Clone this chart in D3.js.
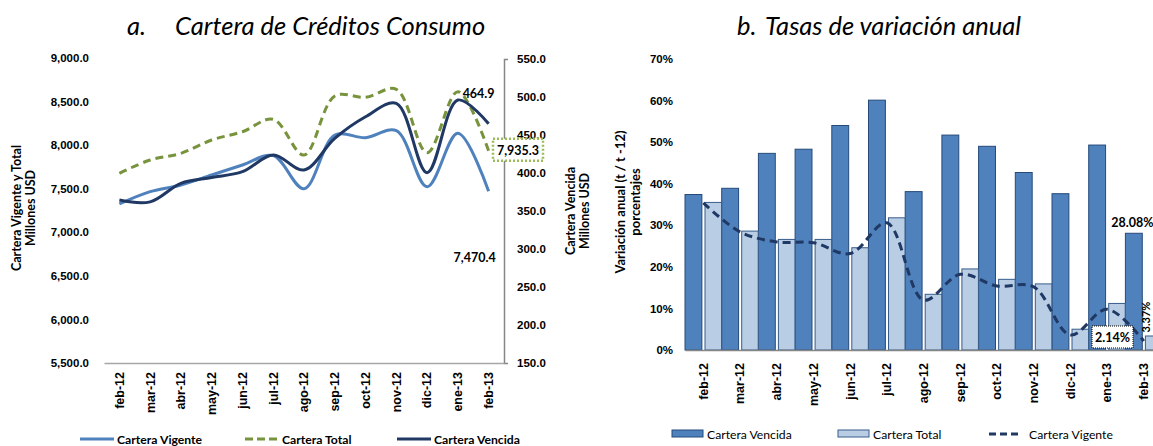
<!DOCTYPE html>
<html>
<head>
<meta charset="utf-8">
<script src="https://cdn.jsdelivr.net/npm/d3@7"></script>
<style>
  body { margin: 0; background: #fff; }
  svg { font-family: Lato, "Open Sans", sans-serif; }
  .tick text { font-weight: bold; font-size: 11.5px; fill: #000; }
  .xlab .tick text { font-size: 12.5px; }
</style>
</head>
<body>
<div id="chart"></div>
<script>
const width = 1153
const height = 446

// months shared by both panels
const months = ["feb-12", "mar-12", "abr-12", "may-12", "jun-12", "jul-12", "ago-12",
  "sep-12", "oct-12", "nov-12", "dic-12", "ene-13", "feb-13"]

// panel a (millones USD)
const carteraVigente = [7325, 7466, 7543, 7657, 7772, 7880, 7500, 8115, 8086, 8166, 7523, 8136, 7470.4]
const carteraTotal = [7677, 7830, 7906, 8059, 8154, 8297, 7887, 8564, 8549, 8641, 7914, 8614, 7935.3]
const carteraVencida = [364.4, 362, 386.4, 394, 401.7, 423.7, 404, 445.6, 474, 491.7, 400.4, 496, 464.9]
const leftTicks = [5500, 6000, 6500, 7000, 7500, 8000, 8500, 9000]
const rightTicks = [150, 200, 250, 300, 350, 400, 450, 500, 550]

// panel b (variación anual)
const varVencida = [0.374, 0.389, 0.473, 0.483, 0.540, 0.601, 0.381, 0.517, 0.490, 0.427, 0.376, 0.493, 0.2808]
const varTotal = [0.355, 0.286, 0.266, 0.266, 0.246, 0.318, 0.134, 0.195, 0.170, 0.159, 0.050, 0.112, 0.0337]
const varVigente = [0.354, 0.284, 0.260, 0.258, 0.232, 0.306, 0.120, 0.182, 0.154, 0.152, 0.036, 0.098, 0.0214]
const pctTicks = [0, 0.1, 0.2, 0.3, 0.4, 0.5, 0.6, 0.7]

const blue = "#4F81BD"
const green = "#77933C"
const navy = "#1F3864"

let svg = d3.select("#chart")
  .append("svg")
  .attr("width", width)
  .attr("height", height)

// ---------- panel a ----------
let x = d3.scaleBand().domain(months).range([104, 504])
let yL = d3.scaleLinear().domain([5500, 9000]).range([363, 58])
let yR = d3.scaleLinear().domain([150, 550]).range([363, 59])
const cx = d => x(d) + x.bandwidth() / 2

svg.append("text")
  .attr("x", 127).attr("y", 35)
  .style("font-style", "italic").style("font-size", "25.5px")
  .text("a.")
svg.append("text")
  .attr("x", 175).attr("y", 35)
  .style("font-style", "italic").style("font-size", "25.5px")
  .text("Cartera de Créditos Consumo")

svg.append("g")
  .attr("transform", "translate(104,0)")
  .call(d3.axisLeft(yL).tickValues(leftTicks).tickFormat(d3.format(",.1f")).tickSize(0).tickPadding(15))
  .call(g => g.select(".domain").remove())

svg.append("g")
  .attr("transform", "translate(504,0)")
  .call(d3.axisRight(yR).tickValues(rightTicks).tickFormat(d3.format(",.1f")).tickSizeInner(0).tickSizeOuter(4).tickPadding(13))
  .call(g => g.select(".domain").attr("stroke", "#868686").attr("stroke-width", 1.5))

svg.append("g")
  .attr("class", "xlab")
  .attr("transform", "translate(0,363)")
  .call(d3.axisBottom(x).tickSize(0).tickPadding(0))
  .call(g => g.select(".domain").attr("stroke", "#A6A6A6").attr("stroke-width", 1.5))
  .call(g => g.selectAll(".tick text")
    .attr("transform", "translate(0,9) rotate(-90)")
    .attr("text-anchor", "end").attr("dy", "0.35em").attr("y", 0))

// axis titles
const leftTitle = svg.append("text")
  .attr("transform", "translate(24,208) rotate(-90)")
  .attr("text-anchor", "middle")
  .style("font-weight", "bold").style("font-size", "12.5px")
leftTitle.append("tspan").attr("x", 0).attr("dy", "-0.25em").text("Cartera Vigente y Total")
leftTitle.append("tspan").attr("x", 0).attr("dy", "1.15em").text("Millones USD")

const rightTitle = svg.append("text")
  .attr("transform", "translate(578,211) rotate(-90)")
  .attr("text-anchor", "middle")
  .style("font-weight", "bold").style("font-size", "12.5px")
rightTitle.append("tspan").attr("x", 0).attr("dy", "-0.25em").text("Cartera Vencida")
rightTitle.append("tspan").attr("x", 0).attr("dy", "1.15em").text("Millones USD")

const smooth = d3.curveCatmullRom.alpha(0.5)

svg.append("path")
  .datum(carteraVigente)
  .attr("fill", "none").attr("stroke", blue).attr("stroke-width", 3)
  .attr("d", d3.line().x((d, i) => cx(months[i])).y(d => yL(d)).curve(smooth))

svg.append("path")
  .datum(carteraTotal)
  .attr("fill", "none").attr("stroke", green).attr("stroke-width", 3)
  .attr("stroke-dasharray", "8,5")
  .attr("d", d3.line().x((d, i) => cx(months[i])).y(d => yL(d)).curve(smooth))

svg.append("path")
  .datum(carteraVencida)
  .attr("fill", "none").attr("stroke", navy).attr("stroke-width", 3)
  .attr("d", d3.line().x((d, i) => cx(months[i])).y(d => yR(d)).curve(smooth))

// data labels on last point
const last = months.length - 1
svg.append("text")
  .attr("x", cx(months[last]) - 10).attr("y", yR(carteraVencida[last]) - 26)
  .attr("text-anchor", "middle")
  .style("font-weight", "bold").style("font-size", "12.5px")
  .text(d3.format(",.1f")(carteraVencida[last]))

svg.append("rect")
  .attr("x", 493).attr("y", yL(carteraTotal[last]) - 12)
  .attr("width", 50).attr("height", 22)
  .attr("fill", "white").attr("stroke", "#9BBB59").attr("stroke-width", 2.5)
  .attr("stroke-dasharray", "2,2")
svg.append("text")
  .attr("x", 518).attr("y", yL(carteraTotal[last]) + 4)
  .attr("text-anchor", "middle")
  .style("font-weight", "bold").style("font-size", "12.5px")
  .text(d3.format(",.1f")(carteraTotal[last]))

svg.append("text")
  .attr("x", cx(months[last]) - 14).attr("y", yL(carteraVigente[last]) + 71)
  .attr("text-anchor", "middle")
  .style("font-weight", "bold").style("font-size", "12.5px")
  .text(d3.format(",.1f")(carteraVigente[last]))

// legend a
const legA = [
  { name: "Cartera Vigente", color: blue, dash: null, x: 80 },
  { name: "Cartera Total", color: green, dash: "8,4", x: 245 },
  { name: "Cartera Vencida", color: navy, dash: null, x: 397 }
]
legA.forEach(l => {
  svg.append("line")
    .attr("x1", l.x).attr("x2", l.x + 34).attr("y1", 439).attr("y2", 439)
    .attr("stroke", l.color).attr("stroke-width", 3)
    .attr("stroke-dasharray", l.dash)
  svg.append("text")
    .attr("x", l.x + 37).attr("y", 444)
    .style("font-weight", "bold").style("font-size", "12.2px")
    .text(l.name)
})

// ---------- panel b ----------
let xb = d3.scaleBand().domain(months).range([685, 685 + 13 * 36.7])
let yP = d3.scaleLinear().domain([0, 0.7]).range([350, 59])
const bw = xb.bandwidth()

svg.append("text")
  .attr("x", 737).attr("y", 35)
  .style("font-style", "italic").style("font-size", "25.5px")
  .text("b.")
svg.append("text")
  .attr("x", 765).attr("y", 35)
  .style("font-style", "italic").style("font-size", "25.5px")
  .text("Tasas de variación anual")

svg.append("g")
  .attr("transform", "translate(685,0)")
  .call(d3.axisLeft(yP).tickValues(pctTicks).tickFormat(d3.format(".0%")).tickSize(0).tickPadding(12))
  .call(g => g.select(".domain").remove())

const pTitle = svg.append("text")
  .attr("transform", "translate(628,202) rotate(-90)")
  .attr("text-anchor", "middle")
  .style("font-weight", "bold").style("font-size", "13px")
pTitle.append("tspan").attr("x", 0).attr("dy", "-0.25em").text("Variación anual (t / t -12)")
pTitle.append("tspan").attr("x", 0).attr("dy", "1.15em").text("porcentajes")

svg.append("g")
  .selectAll("rect")
  .data(varVencida)
  .enter().append("rect")
  .attr("x", (d, i) => xb(months[i]))
  .attr("y", d => yP(d))
  .attr("width", bw * 0.46)
  .attr("height", d => yP(0) - yP(d))
  .attr("fill", blue).attr("stroke", "#254A7A").attr("stroke-width", 1)

svg.append("g")
  .selectAll("rect")
  .data(varTotal)
  .enter().append("rect")
  .attr("x", (d, i) => xb(months[i]) + bw * 0.545)
  .attr("y", d => yP(d))
  .attr("width", bw * 0.45)
  .attr("height", d => yP(0) - yP(d))
  .attr("fill", "#B9CDE5").attr("stroke", "#385D8A").attr("stroke-width", 1)

svg.append("g")
  .attr("class", "xlab")
  .attr("transform", "translate(0,350)")
  .call(d3.axisBottom(xb).tickSize(0))
  .call(g => g.select(".domain").attr("stroke", "#868686").attr("stroke-width", 1.5))
  .call(g => g.selectAll(".tick text")
    .attr("transform", "translate(0,13) rotate(-90)")
    .attr("text-anchor", "end").attr("dy", "0.35em").attr("y", 0))

svg.append("path")
  .datum(varVigente)
  .attr("fill", "none").attr("stroke", navy).attr("stroke-width", 3)
  .attr("stroke-dasharray", "8,5")
  .attr("d", d3.line().x((d, i) => xb(months[i]) + bw / 2).y(d => yP(d)).curve(smooth))

// labels b
svg.append("text")
  .attr("x", xb(months[last]) + 7).attr("y", yP(varVencida[last]) - 6)
  .attr("text-anchor", "middle")
  .style("font-weight", "bold").style("font-size", "12.5px")
  .text(d3.format(".2%")(varVencida[last]))

svg.append("rect")
  .attr("x", 1092).attr("y", 326).attr("width", 41).attr("height", 22)
  .attr("fill", "white").attr("stroke", "#000").attr("stroke-width", 1)
  .attr("stroke-dasharray", "1,1")
svg.append("text")
  .attr("x", 1112.5).attr("y", 342)
  .attr("text-anchor", "middle")
  .style("font-weight", "bold").style("font-size", "12.5px")
  .text(d3.format(".2%")(varVigente[last]))

svg.append("text")
  .attr("transform", "translate(1150," + (yP(varTotal[last]) - 19) + ") rotate(-90)")
  .attr("text-anchor", "middle")
  .style("font-weight", "bold").style("font-size", "11px")
  .text(d3.format(".2%")(varTotal[last]))

// legend b
const legB = [
  { name: "Cartera Vencida", type: "rect", fill: blue, stroke: "#254A7A", x: 672 },
  { name: "Cartera Total", type: "rect", fill: "#B9CDE5", stroke: "#385D8A", x: 838 },
  { name: "Cartera Vigente", type: "line", fill: navy, x: 989 }
]
legB.forEach(l => {
  if (l.type === "rect") {
    svg.append("rect")
      .attr("x", l.x).attr("y", 430).attr("width", 31).attr("height", 7)
      .attr("fill", l.fill).attr("stroke", l.stroke)
  } else {
    svg.append("line")
      .attr("x1", l.x).attr("x2", l.x + 32).attr("y1", 434).attr("y2", 434)
      .attr("stroke", l.fill).attr("stroke-width", 3).attr("stroke-dasharray", "7,4")
  }
  svg.append("text")
    .attr("x", l.x + (l.type === "rect" ? 35 : 40)).attr("y", 439)
    .style("font-size", "12.2px")
    .text(l.name)
})
</script>
</body>
</html>
